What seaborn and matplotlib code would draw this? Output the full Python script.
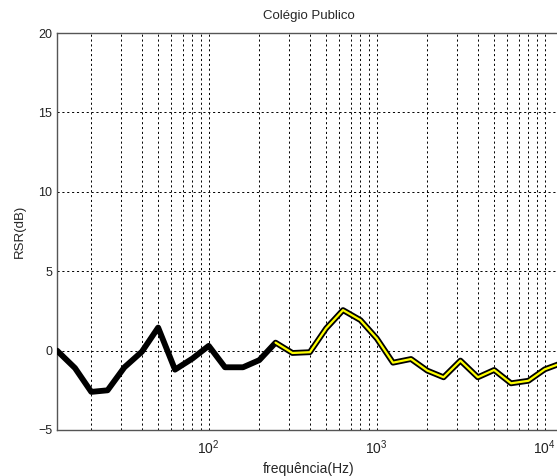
import matplotlib
matplotlib.use("Agg")
import matplotlib.pyplot as plt
import seaborn as sns
import pandas as pd
from matplotlib.ticker import LogLocator, FixedLocator

# Third-octave band centre frequencies (Hz)
freqs = [12.5, 16, 20, 25, 31.5, 40, 50, 63, 80, 100, 125, 160, 200, 250,
         315, 400, 500, 630, 800, 1000, 1250, 1600, 2000, 2500, 3150, 4000,
         5000, 6300, 8000, 10000, 12500]
# RSR per band (dB)
rsr = [0.0, -1.1, -2.6, -2.5, -1.05, -0.07, 1.45, -1.2, -0.5, 0.3, -1.05,
       -1.05, -0.6, 0.5, -0.15, -0.1, 1.4, 2.55, 1.92, 0.77, -0.76, -0.53,
       -1.26, -1.68, -0.63, -1.68, -1.22, -2.06, -1.9, -1.18, -0.8]
# First band of the highlighted range
highlight_from = 250

sns.set_style("white")
plt.rcParams["font.family"] = ["Liberation Sans", "DejaVu Sans"]
plt.rcParams["mathtext.fontset"] = "custom"
plt.rcParams["mathtext.rm"] = "Liberation Sans"

df = pd.DataFrame({"freq": freqs, "rsr": rsr})
df_hi = df[df["freq"] >= highlight_from]

fig = plt.figure(figsize=(5.57, 4.76), dpi=100)
ax = fig.add_axes([57 / 557, 1 - 430 / 476, (561 - 57) / 557, (430 - 33) / 476])

sns.lineplot(data=df, x="freq", y="rsr", ax=ax, color="black", linewidth=4.2,
             sort=False, estimator=None, solid_joinstyle="round", zorder=3)
sns.lineplot(data=df_hi, x="freq", y="rsr", ax=ax, color="#ffff00", linewidth=1.6,
             sort=False, estimator=None, zorder=4)

ax.set_xscale("log")
ax.set_xlim(12.5, 12500)
ax.set_ylim(-5, 20)
ax.yaxis.set_major_locator(FixedLocator([-5, 0, 5, 10, 15, 20]))
ax.xaxis.set_major_locator(LogLocator(base=10, numticks=10))
ax.xaxis.set_minor_locator(LogLocator(base=10, subs=range(2, 10), numticks=20))

grid_kw = dict(color="black", linestyle=(0, (2.2, 2.8)), linewidth=0.7)
ax.grid(True, which="major", axis="both", **grid_kw)
ax.grid(True, which="minor", axis="x", **grid_kw)
ax.set_axisbelow(True)

for s in ax.spines.values():
    s.set_color("#555555")
    s.set_linewidth(1.0)

ax.tick_params(axis="both", which="both", direction="in", colors="#333333",
               labelsize=9, labelcolor="#222222")
ax.tick_params(axis="x", which="major", labelsize=10, pad=6)
ax.tick_params(axis="both", which="major", length=4)
ax.tick_params(axis="x", which="minor", length=2)

ax.set_title("Colégio Publico", fontsize=9.5, pad=10)
ax.set_xlabel("frequência(Hz)", fontsize=10, labelpad=4)
ax.set_ylabel("RSR(dB)", fontsize=9.5, labelpad=9)

fig.savefig("out.png", dpi=100)
